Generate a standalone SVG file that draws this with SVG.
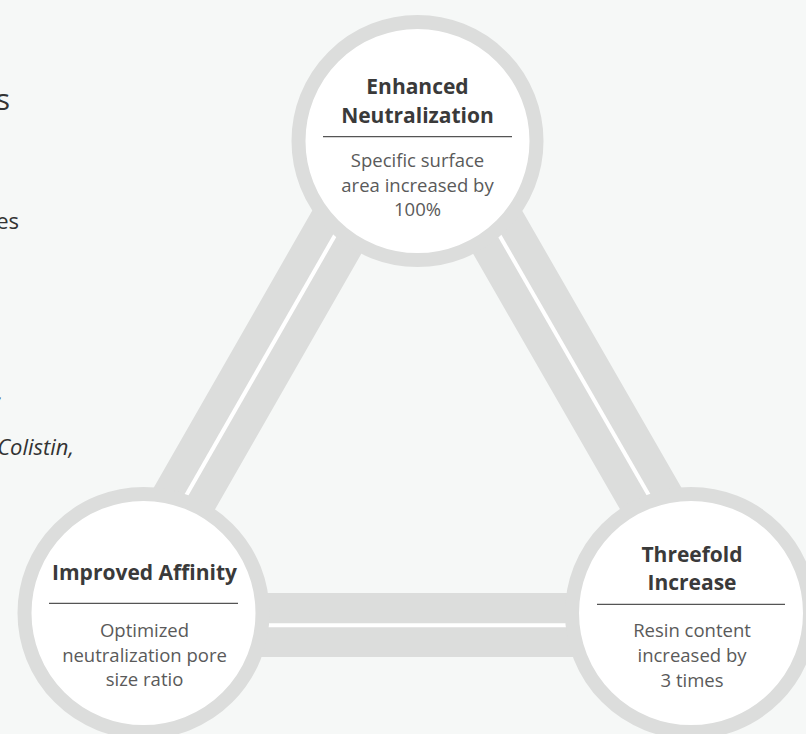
<svg xmlns="http://www.w3.org/2000/svg" width="806" height="734" viewBox="0 0 806 734">
<style>
.bg{fill:#f6f8f7}
.bar{fill:none;stroke:#dcdddc;stroke-width:64;stroke-linejoin:miter}
.hl{stroke:#ffffff;stroke-width:4;fill:none}
.ring{fill:#ffffff;stroke:#dcdddc;stroke-width:14}
.sep{stroke:#555555;stroke-width:1.3}
.t{font-family:"Open Sans","Liberation Sans",sans-serif;font-weight:700;font-size:21px;fill:#3a3a3a;text-anchor:middle}
.d{font-family:"Open Sans","Liberation Sans",sans-serif;font-size:18.5px;fill:#5a5a5a;text-anchor:middle}
.side{font-family:"Open Sans","Liberation Sans",sans-serif;fill:#333333;text-anchor:end}
</style>
<rect class="bg" x="0" y="0" width="806" height="734"/>
<g id="side-text">
<text class="side" x="10" y="110" font-size="30">s</text>
<text class="side" x="19" y="229" font-size="22">es</text>
<text class="side" x="3" y="400" font-size="22" font-style="italic">,</text>
<text class="side" x="74" y="455" font-size="22" font-style="italic">Colistin,</text>
</g>
<g id="connectors">
<path class="bar" d="M417,92 L112,625 L723.5,625 Z"/>
<line class="hl" x1="417" y1="92" x2="112" y2="625"/>
<line class="hl" x1="417" y1="92" x2="723.5" y2="625"/>
<line class="hl" x1="112" y1="625.3" x2="723.5" y2="625.3"/>
</g>
<g id="node-enhanced">
<circle class="ring" cx="417.5" cy="141" r="119"/>
<text class="t" x="417.5" y="93.5">Enhanced</text>
<text class="t" x="417.5" y="122.5">Neutralization</text>
<line class="sep" x1="323" y1="136.7" x2="512" y2="136.7"/>
<text class="d" x="417.5" y="167.3">Specific surface</text>
<text class="d" x="417.5" y="191.5">area increased by</text>
<text class="d" x="417.5" y="215.5">100%</text>
</g>
<g id="node-affinity">
<circle class="ring" cx="143.5" cy="613" r="119"/>
<text class="t" x="144.5" y="580">Improved Affinity</text>
<line class="sep" x1="49" y1="603.3" x2="238" y2="603.3"/>
<text class="d" x="144.5" y="636.7">Optimized</text>
<text class="d" x="144.5" y="661.7">neutralization pore</text>
<text class="d" x="144.5" y="685.7">size ratio</text>
</g>
<g id="node-threefold">
<circle class="ring" cx="691" cy="613" r="119"/>
<text class="t" x="692" y="561.7">Threefold</text>
<text class="t" x="692" y="590">Increase</text>
<line class="sep" x1="597" y1="604.3" x2="785" y2="604.3"/>
<text class="d" x="692" y="636.7">Resin content</text>
<text class="d" x="692" y="661.7">increased by</text>
<text class="d" x="692" y="686.7">3 times</text>
</g>
</svg>
